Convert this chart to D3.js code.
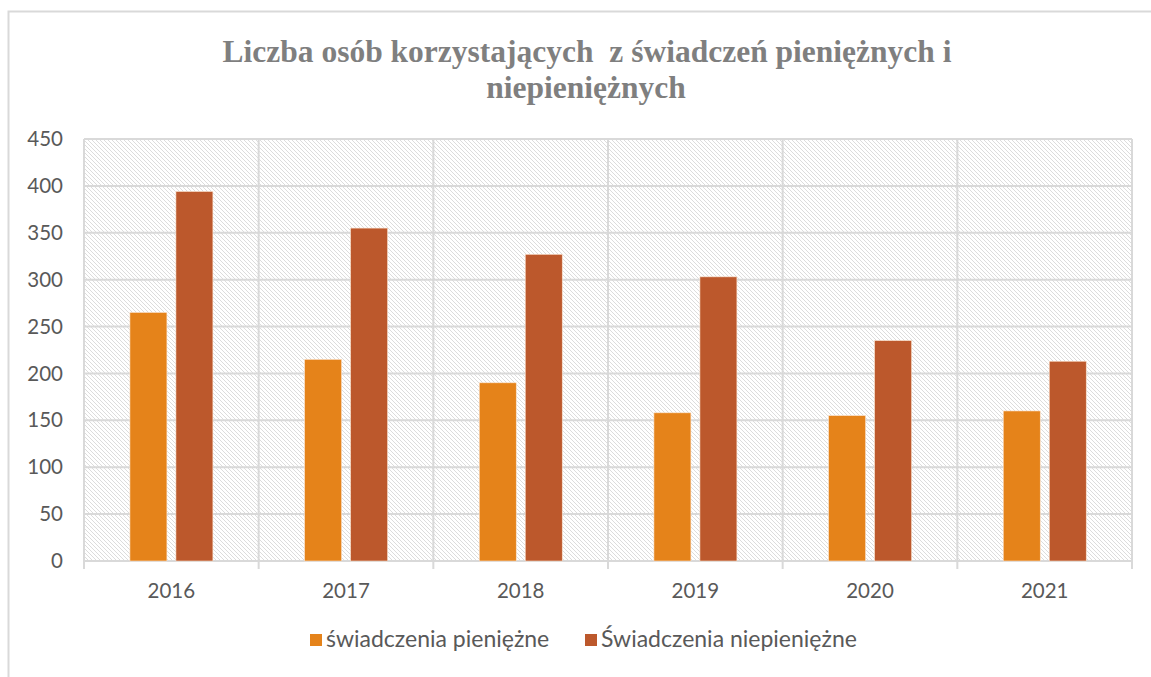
<!DOCTYPE html>
<html>
<head>
<meta charset="utf-8">
<script src="https://cdn.jsdelivr.net/npm/d3@7"></script>
<style>
  body { margin: 0; background: #fff; }
  svg { display: block; }
</style>
</head>
<body>
<div id="chart"></div>
<script>
// data
const years = ['2016', '2017', '2018', '2019', '2020', '2021'];
const seriesNames = ['świadczenia pieniężne', 'Świadczenia niepieniężne'];
const pieniezne = [265, 215, 190, 158, 155, 160];
const niepieniezne = [394, 355, 327, 303, 235, 213];
const yTicks = [0, 50, 100, 150, 200, 250, 300, 350, 400, 450];
const colors = ['#E5831A', '#BC582C'];

const W = 1151, H = 677;
const plot = {left: 84, right: 1132, top: 139, bottom: 561};

const svg = d3.select('#chart').append('svg')
  .attr('width', W)
  .attr('height', H);

// hatch pattern for plot background
const defs = svg.append('defs');
const pat = defs.append('pattern')
  .attr('id', 'hatch')
  .attr('patternUnits', 'userSpaceOnUse')
  .attr('width', 4)
  .attr('height', 4);
pat.append('rect').attr('width', 4).attr('height', 4).attr('fill', '#fff');
pat.append('path')
  .attr('d', 'M-1,-1 L5,5 M-1,3 L1,5 M3,-1 L5,1')
  .attr('stroke', '#dcdcdc')
  .attr('stroke-width', 1);

// outer chart frame (runs past the window on right and bottom)
svg.append('rect')
  .attr('x', 8.5).attr('y', 11.5)
  .attr('width', 1200).attr('height', 700)
  .attr('fill', 'none')
  .attr('stroke', '#d9d9d9')
  .attr('stroke-width', 2);

// title
const title = svg.append('text')
  .attr('text-anchor', 'middle')
  .attr('font-family', '"Liberation Serif", "Times New Roman", serif')
  .attr('font-weight', 'bold')
  .attr('font-size', 31.5)
  .attr('fill', '#7f7f7f')
  .style('white-space', 'pre');
title.append('tspan').attr('x', 587).attr('y', 62)
  .text('Liczba osób korzystających  z świadczeń pieniężnych i');
title.append('tspan').attr('x', 586).attr('y', 98)
  .text('niepieniężnych');

// scales
const x = d3.scaleBand().domain(years).range([plot.left, plot.right]).padding(0);
const bw = x.bandwidth();
const xs = d3.scaleBand().domain([0, 1])
  .range([bw * 0.263, bw * 0.738])
  .paddingInner(0.196);
const y = d3.scaleLinear().domain([0, 450]).range([plot.bottom, plot.top]);

// plot background
svg.append('rect')
  .attr('x', plot.left).attr('y', plot.top)
  .attr('width', plot.right - plot.left)
  .attr('height', plot.bottom - plot.top)
  .attr('fill', 'url(#hatch)');

// horizontal gridlines
svg.append('g')
  .selectAll('line')
  .data(yTicks)
  .join('line')
  .attr('x1', plot.left).attr('x2', plot.right)
  .attr('y1', d => y(d)).attr('y2', d => y(d))
  .attr('stroke', '#d9d9d9')
  .attr('stroke-width', 2);

// vertical gridlines at category boundaries, with tick marks below axis
const bounds = years.map(d => x(d)).concat([plot.right]);
svg.append('g')
  .selectAll('line')
  .data(bounds)
  .join('line')
  .attr('x1', d => d).attr('x2', d => d)
  .attr('y1', plot.top).attr('y2', plot.bottom + 8)
  .attr('stroke', '#d9d9d9')
  .attr('stroke-width', 2);

// bars
const rows = years.map((yr, i) => ({year: yr, vals: [pieniezne[i], niepieniezne[i]]}));
const groups = svg.append('g')
  .selectAll('g')
  .data(rows)
  .join('g')
  .attr('transform', d => `translate(${x(d.year)},0)`);
groups.selectAll('rect')
  .data(d => d.vals.map((v, k) => ({k, v})))
  .join('rect')
  .attr('x', d => xs(d.k))
  .attr('width', xs.bandwidth())
  .attr('y', d => y(d.v))
  .attr('height', d => y(0) - y(d.v))
  .attr('fill', d => colors[d.k])
  .attr('stroke', '#fbe3cf')
  .attr('stroke-width', 0.6);

// y axis labels
const tickFont = 'Lato, "Open Sans", sans-serif';
const yAxis = svg.append('g')
  .attr('transform', `translate(${plot.left},0)`)
  .call(d3.axisLeft(y).tickValues(yTicks).tickSize(0).tickPadding(21));
yAxis.select('.domain').remove();
yAxis.selectAll('text')
  .attr('font-family', tickFont)
  .attr('font-size', 20.5)
  .attr('fill', '#595959');

// x axis labels
const xAxis = svg.append('g')
  .attr('transform', `translate(0,${plot.bottom})`)
  .call(d3.axisBottom(x).tickSize(0).tickPadding(22));
xAxis.select('.domain').remove();
xAxis.selectAll('text')
  .attr('font-family', tickFont)
  .attr('font-size', 20.5)
  .attr('fill', '#595959');

// legend
const legendX = [310, 585];
const legend = svg.append('g')
  .selectAll('g')
  .data(seriesNames)
  .join('g')
  .attr('transform', (d, i) => `translate(${legendX[i]},634)`);
legend.append('rect')
  .attr('width', 12).attr('height', 12)
  .attr('fill', (d, i) => colors[i]);
legend.append('text')
  .attr('x', 16).attr('y', 12.5)
  .attr('font-family', tickFont)
  .attr('font-size', 23)
  .attr('fill', '#595959')
  .text(d => d);
</script>
</body>
</html>
